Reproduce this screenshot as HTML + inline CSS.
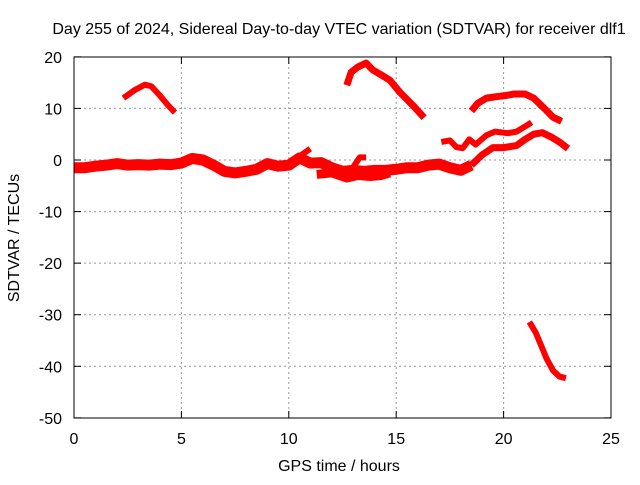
<!DOCTYPE html>
<html><head><meta charset="utf-8"><style>
body{margin:0;background:#fff}
svg text{font-family:"Liberation Sans",sans-serif;font-size:16px;fill:#000}
</style></head><body>
<svg id="chart" width="640" height="480">
<text x="339" y="34" text-anchor="middle">Day 255 of 2024, Sidereal Day-to-day VTEC variation (SDTVAR) for receiver dlf1</text>
<text x="339" y="471" text-anchor="middle">GPS time / hours</text>
<text transform="translate(19,238) rotate(-90)" text-anchor="middle">SDTVAR / TECUs</text>
<g id="grid"></g><g id="series"></g>
<rect x="74" y="57" width="537" height="361" fill="none" stroke="#000" stroke-width="1"/>
<g id="ticks"></g>
</svg>
<script>
const xTicks=[0,5,10,15,20,25];
const yTicks=[20,10,0,-10,-20,-30,-40,-50];
const arc1=[[2.3,12],[2.8,13.5],[3.3,14.6],[3.6,14.3],[4.0,12.5],[4.4,10.5],[4.7,9.2]];
const arc2=[[12.7,14.5],[12.9,17],[13.2,18],[13.6,18.8],[13.9,17.5],[14.3,16.5],[14.7,15.5],[15.2,13],[15.8,10.5],[16.3,8.2]];
const arc3=[[18.5,9.5],[18.8,11],[19.2,12],[19.7,12.3],[20.1,12.5],[20.5,12.8],[21,12.8],[21.4,12],[21.9,10],[22.3,8.3],[22.7,7.5]];
const mid1=[[17.1,3.5],[17.5,3.8],[17.8,2.5],[18.1,2.3],[18.4,4],[18.7,3],[19.2,4.8],[19.6,5.5],[20.2,5.2],[20.6,5.5],[21,6.5],[21.3,7.3]];
const mid2=[[18.5,-1],[19,1],[19.5,2.4],[20,2.4],[20.6,2.8],[21,4],[21.4,5],[21.8,5.3],[22.2,4.5],[22.6,3.5],[23,2.2]];
const low=[[21.2,-31.4],[21.5,-33.5],[21.8,-36.5],[22.0,-38.5],[22.3,-40.8],[22.6,-42],[22.9,-42.3]];
const base=[[0,-1.5],[0.5,-1.5],[1,-1.2],[1.5,-1],[2,-0.7],[2.5,-1],[3,-0.9],[3.5,-1],[4,-0.8],[4.5,-0.9],[5,-0.6],[5.5,0.3],[6,0],[6.5,-1],[7,-2.2],[7.5,-2.5],[8,-2.2],[8.5,-1.8],[9,-0.7],[9.5,-1.2],[10,-1],[10.5,0.4],[11,-0.6],[11.5,-0.5],[12,-1.5],[12.5,-2.2],[13,-2],[13.5,-2.2],[14,-2],[14.5,-2],[15,-1.8],[15.5,-1.5],[16,-1.5],[16.5,-1],[17,-0.8],[17.5,-1.5],[18,-2],[18.5,-1]];
const spur1=[[10.2,-0.5],[10.6,1],[11,2.2]];
const band2=[[11.3,-2.8],[12,-2.5],[12.7,-3.5],[13.2,-3],[13.8,-3.2],[14.3,-3],[14.7,-2.5]];
const spur2=[[12.9,-2],[13.3,0.5],[13.6,0.5]];
const X=t=>74+t*537/25, Y=v=>160-v*361/70;
const NS="http://www.w3.org/2000/svg";
const grid=document.getElementById('grid'),ticks=document.getElementById('ticks'),ser=document.getElementById('series'),svg=document.getElementById('chart');
function mk(tag,at,parent){const e=document.createElementNS(NS,tag);for(const k in at)e.setAttribute(k,at[k]);parent.appendChild(e);return e;}
xTicks.forEach(t=>{
 if(t>0&&t<25){const g=mk('line',{x1:X(t),x2:X(t),y1:57,y2:418,stroke:'#999','stroke-dasharray':'2,3'},grid);
 
 }
 const a=mk('line',{x1:X(t),x2:X(t),y1:418,y2:411,stroke:'#000'},ticks);
 const b=mk('line',{x1:X(t),x2:X(t),y1:57,y2:64,stroke:'#000'},ticks);
 const l=mk('text',{x:X(t),y:444,'text-anchor':'middle'},svg);l.textContent=t;
 
 
});
yTicks.forEach(v=>{
 if(v<20&&v>-50){const g=mk('line',{x1:74,x2:611,y1:Y(v),y2:Y(v),stroke:'#999','stroke-dasharray':'2,3'},grid);
 
 }
 const a=mk('line',{x1:74,x2:81,y1:Y(v),y2:Y(v),stroke:'#000'},ticks);
 const b=mk('line',{x1:604,x2:611,y1:Y(v),y2:Y(v),stroke:'#000'},ticks);
 const l=mk('text',{x:62,y:Y(v)+6,'text-anchor':'end'},svg);l.textContent=v;
 
 
});
function draw(d,w,name){
 const p=mk('polyline',{points:d.map(q=>X(q[0])+','+Y(q[1])).join(' '),fill:'none',stroke:'#f00','stroke-width':w,'stroke-linejoin':'round'},ser);
 
 
}
draw(base,11,'series-baseline');draw(spur1,6,'series-spur-1');draw(band2,9,'series-band-2');draw(spur2,6,'series-spur-2');
draw(arc1,6,'series-arc-1');draw(arc2,7,'series-arc-2');draw(arc3,7,'series-arc-3');
draw(mid1,6,'series-mid-1');draw(mid2,7,'series-mid-2');draw(low,6,'series-low');
</script>
</body></html>
